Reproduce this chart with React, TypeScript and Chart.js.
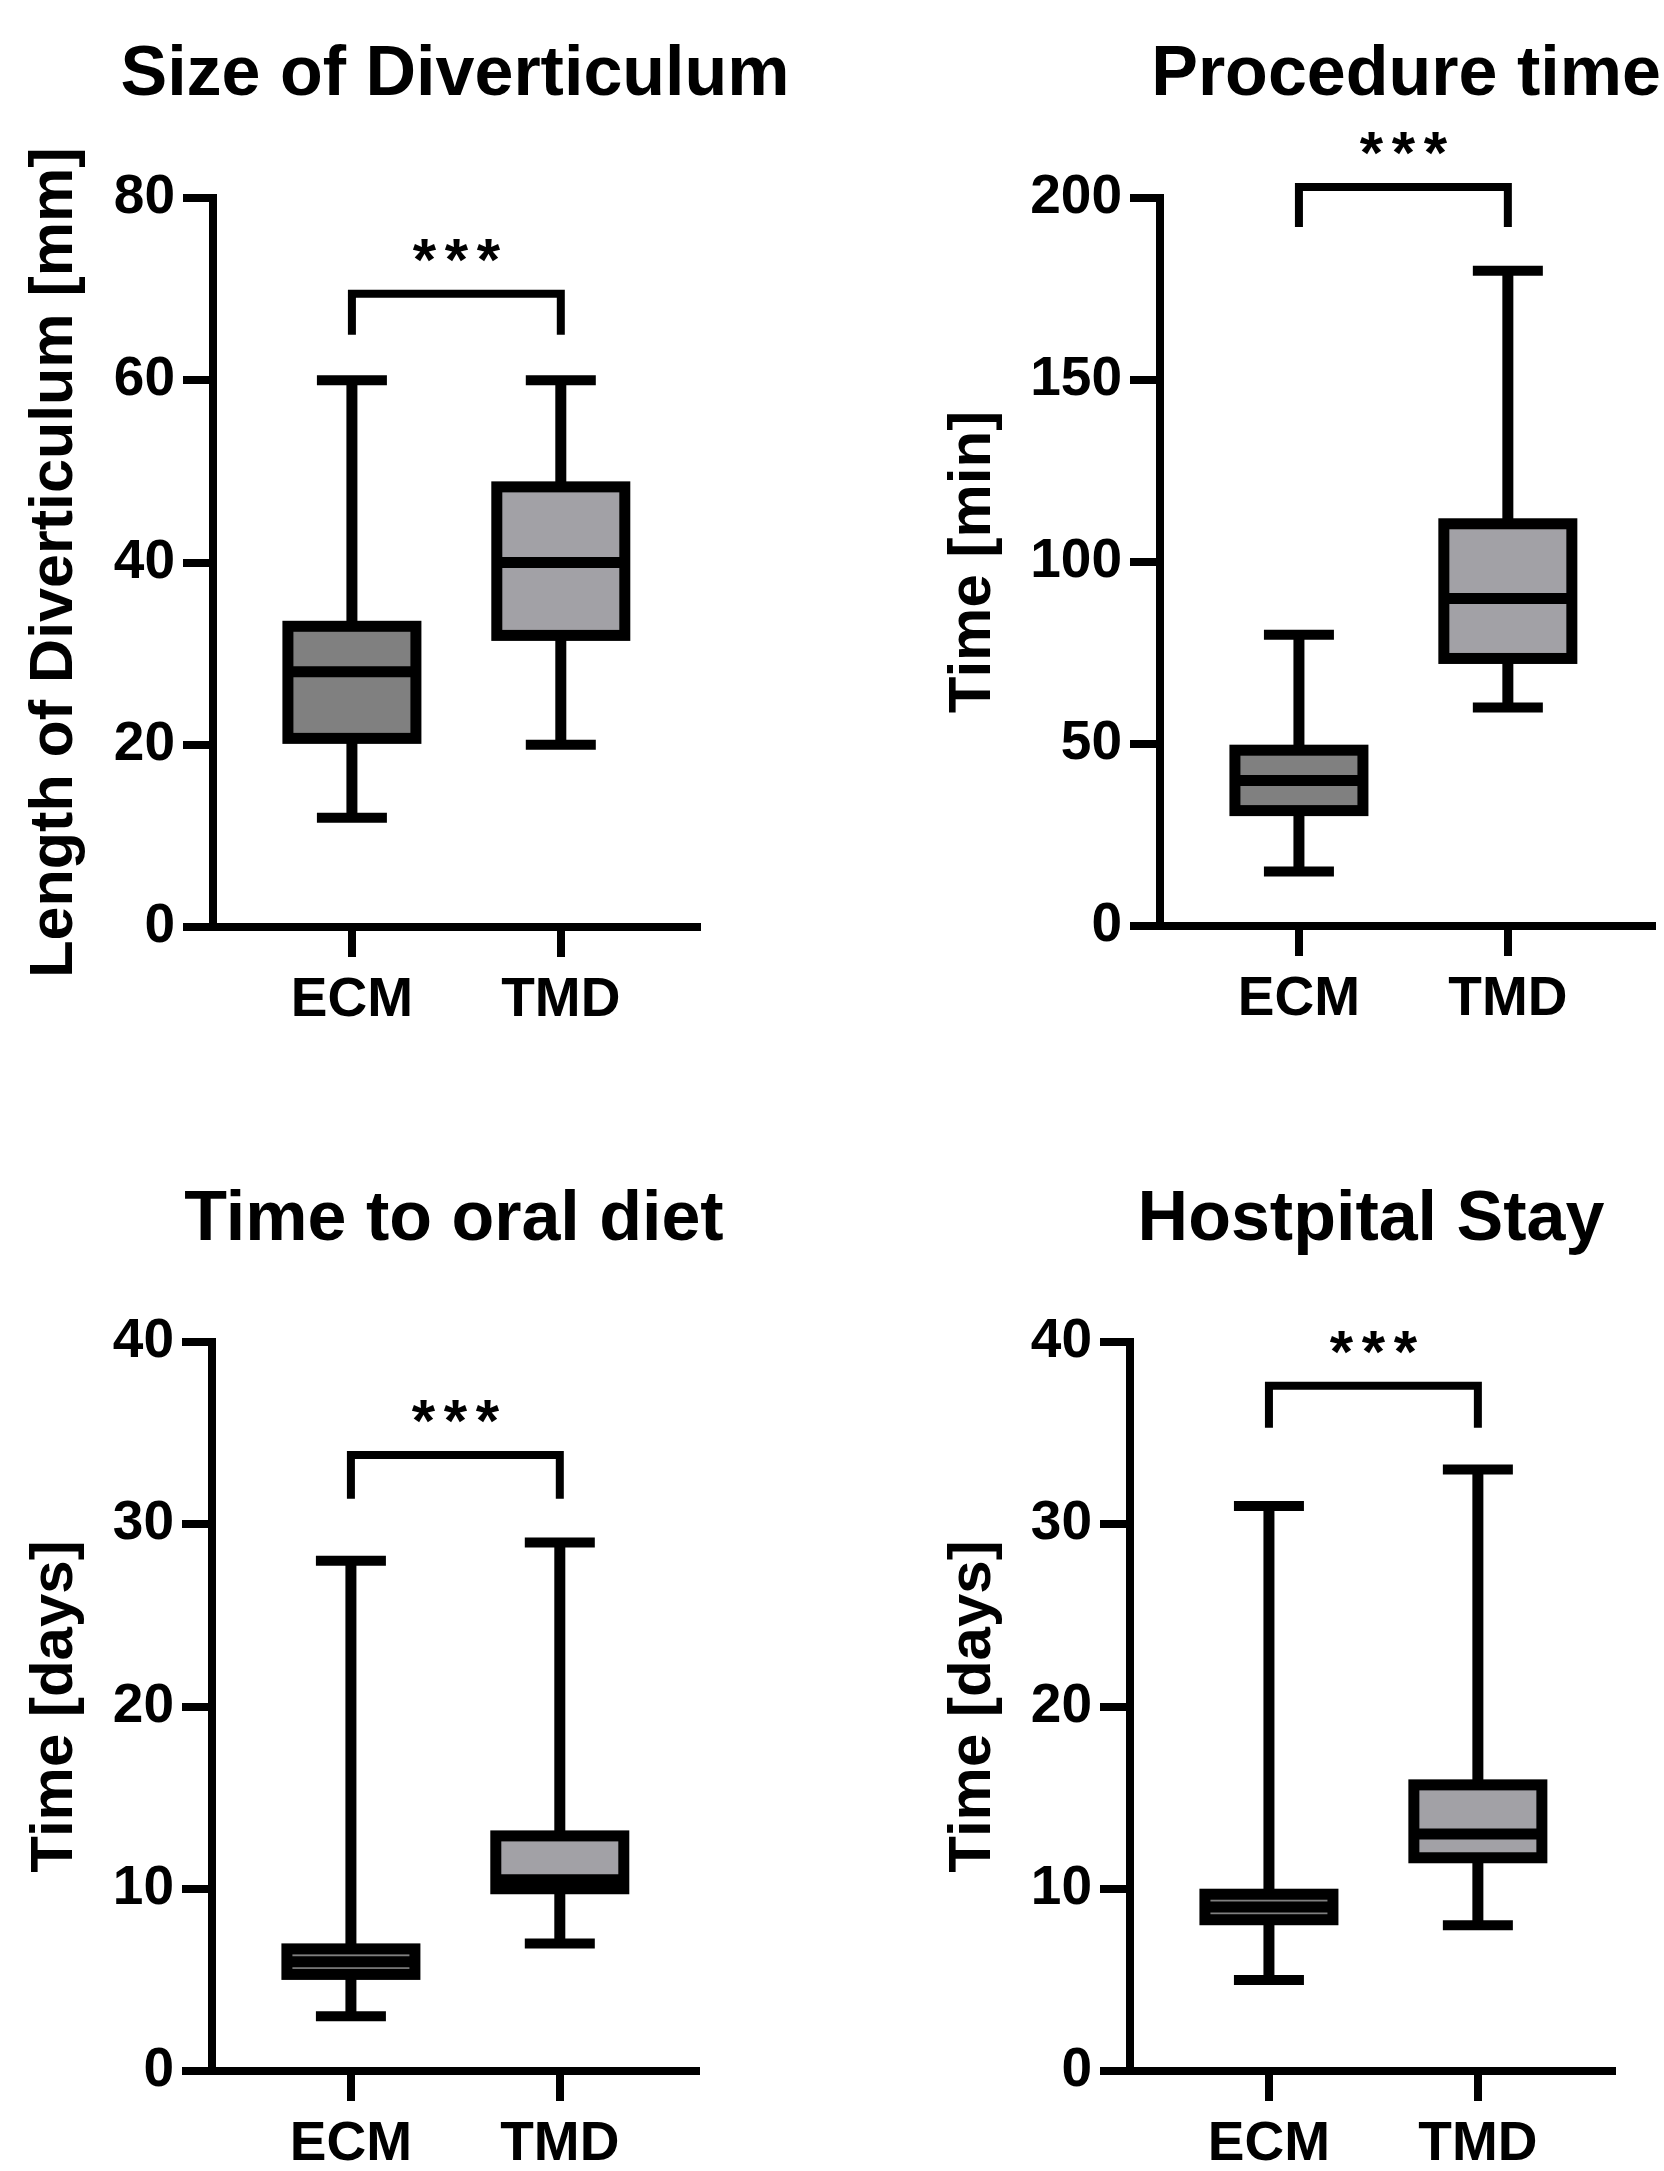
import React, { useEffect, useRef } from 'react';
import { Chart, registerables } from 'chart.js';

Chart.register(...registerables);

const FONT = "'Liberation Sans', Arial, Helvetica, sans-serif";

// ---------------- data ----------------
const GROUPS = ['ECM', 'TMD'];
const GROUP_POS = [1, 2];
const GROUP_FILL = ['#808080', '#a2a1a6'];
const SIG_LABEL = '***';

// Size of Diverticulum
const SIZE_TITLE = 'Size of Diverticulum';
const SIZE_AXIS = 'Length of Diverticulum [mm]';
const SIZE_TICKS = [0, 20, 40, 60, 80];
const SIZE_MIN = [12, 20];
const SIZE_Q1 = [20.7, 32];
const SIZE_MEDIAN = [28, 40];
const SIZE_Q3 = [33, 48.3];
const SIZE_MAX = [60, 60];
const SIZE_BRACKET = [65, 69.5]; // [leg end, bar level]

// Procedure time
const PROC_TITLE = 'Procedure time';
const PROC_AXIS = 'Time [min]';
const PROC_TICKS = [0, 50, 100, 150, 200];
const PROC_MIN = [15, 60];
const PROC_Q1 = [31.7, 73.5];
const PROC_MEDIAN = [40, 90];
const PROC_Q3 = [48.3, 110.5];
const PROC_MAX = [80, 180];
const PROC_BRACKET = [192, 203];

// Time to oral diet
const DIET_TITLE = 'Time to oral diet';
const DIET_AXIS = 'Time [days]';
const DIET_TICKS = [0, 10, 20, 30, 40];
const DIET_MIN = [3, 7];
const DIET_Q1 = [5.3, 10];
const DIET_MEDIAN = [6, 10.5];
const DIET_Q3 = [6.7, 12.9];
const DIET_MAX = [28, 29];
const DIET_BRACKET = [31.4, 33.8];

// Hospital stay
const STAY_TITLE = 'Hostpital Stay';
const STAY_AXIS = 'Time [days]';
const STAY_TICKS = [0, 10, 20, 30, 40];
const STAY_MIN = [5, 8];
const STAY_Q1 = [8.3, 11.7];
const STAY_MEDIAN = [9, 13];
const STAY_Q3 = [9.7, 15.7];
const STAY_MAX = [31, 33];
const STAY_BRACKET = [35.3, 37.6];

// ---------------- styles / layout ----------------
const X_MIN = 0.335;
const X_AXIS_H = 100;
const BOX_W = 128; // stroke center to stroke center
const BOX_STROKE = 11;
const MEDIAN_W = 11;
const WHISKER_W = 11;
const CAP_W = 70;
const CAP_T = 10;
const BRACKET_W = 8;
const STAR_SIZE = 60;
const STAR_PITCH = 32;
const STAR_GAP = 14;
const TITLE_SIZE = 70;
const TICK_FONT = { family: FONT, size: 55, weight: 'bold' as const };

type PanelDef = {
  title: string;
  axis: string;
  ticks: number[];
  min: number[];
  q1: number[];
  median: number[];
  q3: number[];
  max: number[];
  bracket: number[];
  left: number;
  top: number;
  width: number;
  height: number;
  area: [number, number, number, number]; // left, right, top, bottom
  xMax: number;
  titleY: number;
  axisTitleTop: number;
  axisTitleSize: number;
};

const PANELS: PanelDef[] = [
  {
    title: SIZE_TITLE, axis: SIZE_AXIS, ticks: SIZE_TICKS, min: SIZE_MIN, q1: SIZE_Q1,
    median: SIZE_MEDIAN, q3: SIZE_Q3, max: SIZE_MAX, bracket: SIZE_BRACKET,
    left: 0, top: 0, width: 832, height: 1086, area: [213, 697, 198, 927], xMax: 2.652,
    titleY: 76, axisTitleTop: 19, axisTitleSize: 61,
  },
  {
    title: PROC_TITLE, axis: PROC_AXIS, ticks: PROC_TICKS, min: PROC_MIN, q1: PROC_Q1,
    median: PROC_MEDIAN, q3: PROC_Q3, max: PROC_MAX, bracket: PROC_BRACKET,
    left: 832, top: 0, width: 832, height: 1086, area: [328, 820, 198, 926], xMax: 2.69,
    titleY: 76, axisTitleTop: 105, axisTitleSize: 60,
  },
  {
    title: DIET_TITLE, axis: DIET_AXIS, ticks: DIET_TICKS, min: DIET_MIN, q1: DIET_Q1,
    median: DIET_MEDIAN, q3: DIET_Q3, max: DIET_MAX, bracket: DIET_BRACKET,
    left: 0, top: 1086, width: 832, height: 1085, area: [212, 696, 256, 985], xMax: 2.652,
    titleY: 135, axisTitleTop: 19, axisTitleSize: 60,
  },
  {
    title: STAY_TITLE, axis: STAY_AXIS, ticks: STAY_TICKS, min: STAY_MIN, q1: STAY_Q1,
    median: STAY_MEDIAN, q3: STAY_Q3, max: STAY_MAX, bracket: STAY_BRACKET,
    left: 832, top: 1086, width: 832, height: 1085, area: [298, 780, 256, 985], xMax: 2.642,
    titleY: 135, axisTitleTop: 105, axisTitleSize: 60,
  },
];

function makeBoxPlugin(p: PanelDef) {
  return {
    id: 'boxWhiskers',
    afterDatasetsDraw(chart: any) {
      const { ctx } = chart;
      const xs = chart.scales.x;
      const ys = chart.scales.y;
      ctx.save();
      ctx.strokeStyle = '#000';
      ctx.fillStyle = '#000';
      ctx.lineCap = 'butt';
      ctx.lineJoin = 'miter';
      const line = (x1: number, y1: number, x2: number, y2: number) => {
        ctx.beginPath();
        ctx.moveTo(x1, y1);
        ctx.lineTo(x2, y2);
        ctx.stroke();
      };
      GROUP_POS.forEach((gx, i) => {
        const xc = xs.getPixelForValue(gx);
        const yMin = ys.getPixelForValue(p.min[i]);
        const yQ1 = ys.getPixelForValue(p.q1[i]);
        const yMed = ys.getPixelForValue(p.median[i]);
        const yQ3 = ys.getPixelForValue(p.q3[i]);
        const yMax = ys.getPixelForValue(p.max[i]);
        // whiskers
        ctx.lineWidth = WHISKER_W;
        line(xc, yQ3, xc, yMax);
        line(xc, yQ1, xc, yMin);
        // caps
        ctx.lineWidth = CAP_T;
        line(xc - CAP_W / 2, yMax, xc + CAP_W / 2, yMax);
        line(xc - CAP_W / 2, yMin, xc + CAP_W / 2, yMin);
        // box outline
        ctx.lineWidth = BOX_STROKE;
        ctx.strokeRect(xc - BOX_W / 2, yQ3, BOX_W, yQ1 - yQ3);
        // median
        ctx.lineWidth = MEDIAN_W;
        line(xc - BOX_W / 2, yMed, xc + BOX_W / 2, yMed);
      });
      // significance bracket
      const x1 = xs.getPixelForValue(GROUP_POS[0]);
      const x2 = xs.getPixelForValue(GROUP_POS[1]);
      const yLeg = ys.getPixelForValue(p.bracket[0]);
      const yBar = ys.getPixelForValue(p.bracket[1]);
      ctx.lineWidth = BRACKET_W;
      ctx.beginPath();
      ctx.moveTo(x1, yLeg);
      ctx.lineTo(x1, yBar);
      ctx.lineTo(x2, yBar);
      ctx.lineTo(x2, yLeg);
      ctx.stroke();
      ctx.font = `bold ${STAR_SIZE}px ${FONT}`;
      ctx.textAlign = 'center';
      ctx.textBaseline = 'alphabetic';
      const chars = SIG_LABEL.split('');
      const mid = (x1 + x2) / 2;
      chars.forEach((c, k) => {
        ctx.fillText(c, mid + (k - (chars.length - 1) / 2) * STAR_PITCH, yBar - STAR_GAP);
      });
      // panel title, centred over the plot area
      const area = chart.chartArea;
      ctx.font = `bold ${TITLE_SIZE}px ${FONT}`;
      ctx.textAlign = 'center';
      ctx.textBaseline = 'middle';
      ctx.fillText(p.title, (area.left + area.right) / 2, p.titleY);
      ctx.restore();
    },
  };
}

function BoxPanel({ p }: { p: PanelDef }) {
  const ref = useRef<HTMLCanvasElement>(null);
  useEffect(() => {
    const canvas = ref.current;
    if (!canvas) return;
    const [aL, aR, aT, aB] = p.area;
    const gridOpts = {
      display: true,
      drawOnChartArea: false,
      drawTicks: true,
      tickLength: 30,
      lineWidth: 8,
      color: '#000',
      offset: false,
    };
    const borderOpts = { display: true, width: 8, color: '#000' };
    const chart = new Chart(canvas, {
      type: 'bar',
      data: {
        datasets: [
          {
            data: GROUP_POS.map((gx, i) => ({ x: gx, y: [p.q1[i], p.q3[i]] })) as any,
            backgroundColor: GROUP_FILL,
            borderWidth: 0,
            barThickness: BOX_W,
          },
        ],
      },
      options: {
        responsive: false,
        animation: false,
        events: [],
        layout: {
          padding: { left: 0, top: aT, right: p.width - aR, bottom: p.height - aB - X_AXIS_H },
        },
        plugins: {
          legend: { display: false },
          tooltip: { enabled: false },
          title: { display: false },
        },
        scales: {
          x: {
            type: 'linear',
            min: X_MIN,
            max: p.xMax,
            offset: false,
            afterBuildTicks: (s: any) => {
              s.ticks = GROUP_POS.map((v) => ({ value: v }));
            },
            afterFit: (s: any) => {
              s.height = X_AXIS_H;
            },
            ticks: {
              autoSkip: false,
              maxRotation: 0,
              minRotation: 0,
              padding: 11,
              color: '#000',
              font: TICK_FONT,
              callback: (v: any) => {
                const idx = GROUP_POS.indexOf(Number(v));
                return idx >= 0 ? GROUPS[idx] : '';
              },
            },
            grid: gridOpts,
            border: borderOpts,
          } as any,
          y: {
            type: 'linear',
            min: p.ticks[0],
            max: p.ticks[p.ticks.length - 1],
            afterBuildTicks: (s: any) => {
              s.ticks = p.ticks.map((v) => ({ value: v }));
            },
            afterFit: (s: any) => {
              s.width = aL;
            },
            ticks: { padding: 8, color: '#000', font: TICK_FONT },
            grid: gridOpts,
            border: borderOpts,
            title: {
              display: true,
              text: p.axis,
              color: '#000',
              font: { family: FONT, size: p.axisTitleSize, weight: 'bold', lineHeight: 1.2 },
              padding: { top: p.axisTitleTop, bottom: 0 },
            },
          } as any,
        },
      },
      plugins: [makeBoxPlugin(p)],
    });
    return () => chart.destroy();
  }, [p]);
  return (
    <canvas
      ref={ref}
      width={p.width}
      height={p.height}
      style={{ position: 'absolute', left: p.left, top: p.top, width: p.width, height: p.height }}
    />
  );
}

export default function App() {
  return (
    <div
      style={{
        position: 'absolute',
        left: 0,
        top: 0,
        width: 1664,
        height: 2171,
        background: '#fff',
        overflow: 'hidden',
      }}
    >
      {PANELS.map((p, i) => (
        <BoxPanel key={i} p={p} />
      ))}
    </div>
  );
}
